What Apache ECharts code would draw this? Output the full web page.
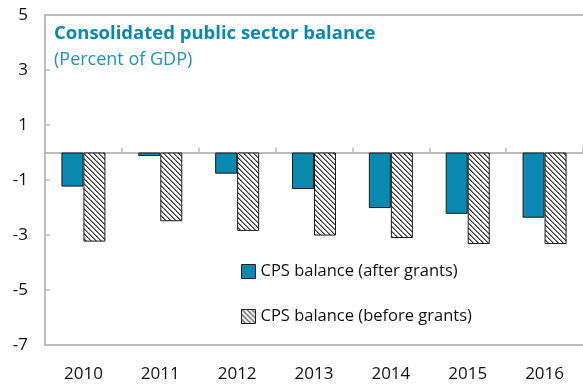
<!DOCTYPE html>
<html><head><meta charset="utf-8">
<script src="https://cdn.jsdelivr.net/npm/echarts@6/dist/echarts.min.js"></script>
<style>html,body{margin:0;padding:0;background:#fff}#c{width:583px;height:385px}</style>
</head><body><div id="c"></div>
<script>
const categories = ['2010','2011','2012','2013','2014','2015','2016'];
const afterGrants = [-1.24, -0.13, -0.77, -1.33, -2.02, -2.23, -2.37];
const beforeGrants = [-3.24, -2.5, -2.85, -3.02, -3.11, -3.33, -3.33];
const seriesNames = ['CPS balance (after grants)', 'CPS balance (before grants)'];
const titleText = 'Consolidated public sector balance';
const subtitleText = '(Percent of GDP)';

const FONT = 'Open Sans';
const tile = document.createElement('canvas');
tile.width = 5; tile.height = 5;
const ctx = tile.getContext('2d');
const img = ctx.createImageData(5, 5);
for (let y = 0; y < 5; y++) for (let x = 0; x < 5; x++) {
  const d = ((x - y) % 5 + 5) % 5;
  const v = d === 0 ? 60 : (d === 1 ? 140 : 255);
  const i = (y * 5 + x) * 4;
  img.data[i] = v; img.data[i+1] = v; img.data[i+2] = v; img.data[i+3] = 255;
}
ctx.putImageData(img, 0, 0);

const chart = echarts.init(document.getElementById('c'), null, {renderer: 'canvas'});
chart.setOption({
  animation: false,
  textStyle: {fontFamily: FONT},
  grid: {left: 45, right: 0, top: 15, bottom: 40},
  title: {
    text: titleText, subtext: subtitleText, left: 49, top: 19, itemGap: 8,
    textStyle: {fontFamily: FONT, fontSize: 18.5, fontWeight: 'bold', color: '#0a89b0'},
    subtextStyle: {fontFamily: FONT, fontSize: 18, color: '#1a95bd'}
  },
  legend: {
    orient: 'vertical', left: 236, top: 258, itemGap: 28, itemWidth: 14, itemHeight: 14, icon: 'rect',
    textStyle: {fontFamily: FONT, fontSize: 16.5, color: '#111'}, itemStyle: {borderColor: '#222', borderWidth: 1},
    data: seriesNames
  },
  xAxis: [
    {type: 'category', data: categories, position: 'bottom',
     axisLine: {onZero: true, lineStyle: {color: '#bdbdbd', width: 2}},
     axisTick: {show: true, inside: true, length: 5, lineStyle: {color: '#bdbdbd', width: 1.5}},
     axisLabel: {show: false}},
    {type: 'category', data: categories, position: 'bottom',
     axisLine: {onZero: false, lineStyle: {color: '#bdbdbd', width: 2}},
     axisTick: {show: false},
     axisLabel: {fontFamily: FONT, fontSize: 17, color: '#111', margin: 21}},
    {type: 'category', data: categories, position: 'top',
     axisLine: {onZero: false, lineStyle: {color: '#bdbdbd', width: 2}},
     axisTick: {show: false}, axisLabel: {show: false}}
  ],
  yAxis: {
    type: 'value', min: -7, max: 5, interval: 2,
    axisLine: {show: true, lineStyle: {color: '#bdbdbd', width: 2}},
    axisTick: {show: true, inside: true, length: 5, lineStyle: {color: '#bdbdbd', width: 1.5}},
    splitLine: {show: false},
    axisLabel: {fontFamily: FONT, fontSize: 17, color: '#111', margin: 17}
  },
  series: [
    {name: seriesNames[0], type: 'bar', data: afterGrants, barWidth: 22, barGap: '0%',
     itemStyle: {color: '#0a89b0', borderColor: '#1a1a1a', borderWidth: 1}},
    {name: seriesNames[1], type: 'bar', data: beforeGrants, barWidth: 22,
     itemStyle: {color: {image: tile, repeat: 'repeat'}, borderColor: '#1a1a1a', borderWidth: 1}}
  ]
});
</script></body></html>
